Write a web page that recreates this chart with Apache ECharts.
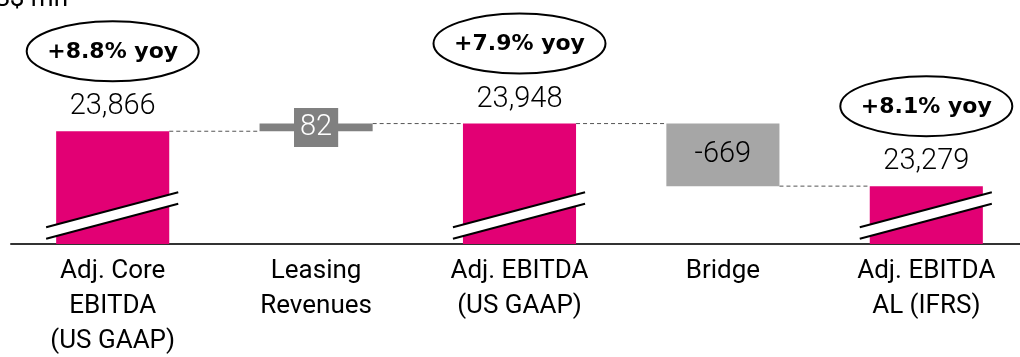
<!DOCTYPE html>
<html><head><meta charset="utf-8">
<script src="https://cdn.jsdelivr.net/npm/echarts@6/dist/echarts.min.js"></script>
<style>html,body{margin:0;padding:0;background:#fff}#c{width:1020px;height:357px}</style>
</head><body><div id="c"></div>
<script>
const categories = ['Adj. Core\nEBITDA\n(US GAAP)', 'Leasing\nRevenues', 'Adj. EBITDA\n(US GAAP)', 'Bridge', 'Adj. EBITDA\nAL (IFRS)'];
const barKinds = ['total', 'delta', 'total', 'delta', 'total'];
const barStarts = [null, 23866, null, 23948, null];
const barEnds = [23866, 23948, 23948, 23279, 23279];
const valueLabels = ['23,866', '82', '23,948', '-669', '23,279'];
const yoyLabels = ['+8.8% yoy', '', '+7.9% yoy', '', '+8.1% yoy'];
const axisMin = 22660, axisMax = 25120;
const unitLabel = 'US$ mn';

const chart = echarts.init(document.getElementById('c'), null, {renderer: 'canvas'});

function renderItem(params, api) {
  const i = api.value(0);
  const bandW = api.size([1, 0])[0];
  const w = bandW * 0.556;
  const cx = api.coord([i, axisMin])[0];
  const bottomY = params.coordSys.y + params.coordSys.height;
  const endY = api.coord([i, barEnds[i]])[1];
  const children = [];
  if (i < categories.length - 1) {
    const nx = api.coord([i + 1, barEnds[i]])[0];
    children.push({type: 'line', shape: {x1: cx + w / 2, y1: endY, x2: nx - w / 2, y2: endY},
      style: {stroke: '#555', lineWidth: 1, lineDash: [4, 3]}});
  }
  if (barKinds[i] === 'total') {
    children.push({type: 'rect', shape: {x: cx - w / 2, y: endY, width: w, height: bottomY - endY},
      style: {fill: '#E20074'}});
    const xl = cx - w / 2 - 10, xr = cx + w / 2 + 9;
    children.push({type: 'polygon', shape: {points: [[xl, bottomY - 16.8], [xr, bottomY - 51.8], [xr, bottomY - 40.2], [xl, bottomY - 5.2]]},
      style: {fill: '#fff'}});
    children.push({type: 'line', shape: {x1: xl, y1: bottomY - 16.8, x2: xr, y2: bottomY - 51.8}, style: {stroke: '#000', lineWidth: 2}});
    children.push({type: 'line', shape: {x1: xl, y1: bottomY - 5.2, x2: xr, y2: bottomY - 40.2}, style: {stroke: '#000', lineWidth: 2}});
    children.push({type: 'text', x: cx, y: endY - 24,
      style: {text: valueLabels[i], fill: '#000', font: '300 29px Roboto', align: 'center', verticalAlign: 'middle'}});
    if (yoyLabels[i]) {
      const cy = endY - 80;
      children.push({type: 'ellipse', shape: {cx: cx, cy: cy, rx: 86, ry: 30},
        style: {fill: '#fff', stroke: '#000', lineWidth: 2}});
      children.push({type: 'text', x: cx, y: cy + 1,
        style: {text: yoyLabels[i], fill: '#000', font: 'bold 22px "DejaVu Sans"', align: 'center', verticalAlign: 'middle'}});
    }
  } else {
    const startY = api.coord([i, barStarts[i]])[1];
    const top = Math.min(startY, endY), h = Math.abs(startY - endY);
    const thin = h < 30;
    children.push({type: 'rect', shape: {x: cx - w / 2, y: top, width: w, height: h},
      style: {fill: thin ? '#808080' : '#A6A6A6'}});
    children.push({type: 'text', x: cx, y: top + h / 2,
      style: {text: valueLabels[i], fill: thin ? '#fff' : '#000', font: '300 29px Roboto', align: 'center', verticalAlign: 'middle',
        lineHeight: 29, backgroundColor: thin ? '#808080' : 'transparent', padding: thin ? [5, 6, 5, 6] : 0}});
  }
  return {type: 'group', children: children};
}

chart.setOption({
  animation: false,
  backgroundColor: '#fff',
  grid: {left: 11, width: 1017, top: 14, height: 230, containLabel: false, outerBoundsMode: 'none'},
  xAxis: {
    type: 'category', data: categories,
    axisLine: {show: true, lineStyle: {color: '#333', width: 2}},
    axisTick: {show: false},
    axisLabel: {interval: 0, color: '#000', fontFamily: 'Roboto', fontSize: 26, lineHeight: 35, margin: 10}
  },
  yAxis: {type: 'value', min: axisMin, max: axisMax, show: false, splitLine: {show: false}},
  graphic: [{type: 'text', right: 952, top: -14,
    style: {text: unitLabel, fill: '#000', font: '26px Roboto'}}],
  series: [{
    type: 'custom', clip: false, renderItem: renderItem,
    data: categories.map((c, i) => [i, barEnds[i]])
  }]
});
</script></body></html>
